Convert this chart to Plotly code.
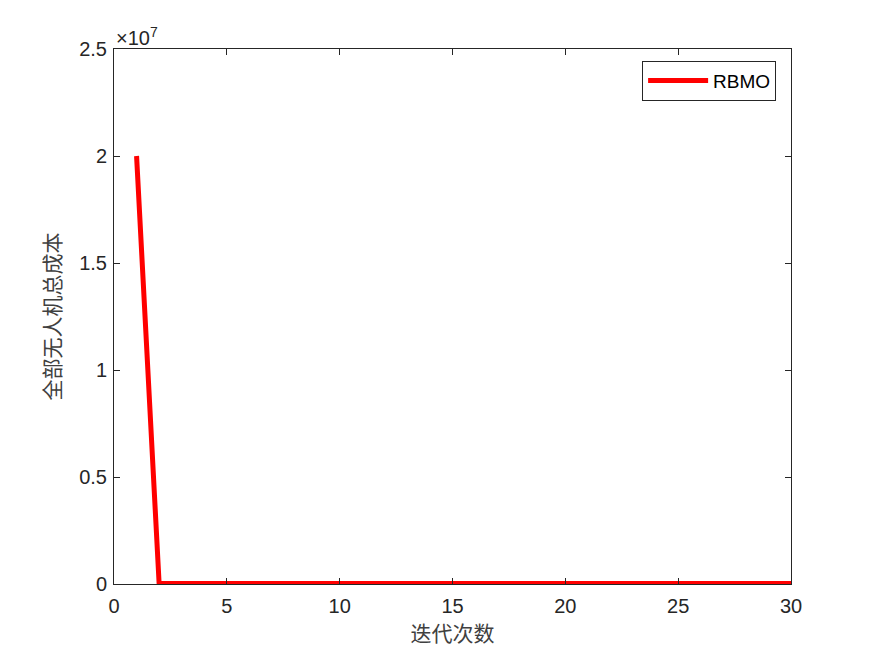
import plotly.graph_objects as go

iterations = list(range(1, 31))
cost = [2.0e7, 2.1e4, 2.0e4, 2.0e4, 1.9e4, 1.9e4, 1.9e4, 1.9e4, 1.9e4, 1.9e4,
        1.9e4, 1.9e4, 1.9e4, 1.9e4, 1.9e4, 1.9e4, 1.9e4, 1.9e4, 1.9e4, 1.9e4,
        1.9e4, 1.9e4, 1.9e4, 1.9e4, 1.9e4, 1.9e4, 1.9e4, 1.9e4, 1.9e4, 1.9e4]
series_name = "RBMO"
y_tickvals = [0, 0.5e7, 1.0e7, 1.5e7, 2.0e7, 2.5e7]
y_ticktext = ["0", "0.5", "1", "1.5", "2", "2.5"]
x_tickvals = [0, 5, 10, 15, 20, 25, 30]

fig = go.Figure()
fig.add_trace(go.Scatter(x=iterations, y=cost, mode="lines", name=series_name,
                         line=dict(color="#FF0000", width=5)))

tick_font = dict(family="Liberation Sans, Arial", size=20, color="#262626")
title_font = dict(family="Noto Sans CJK SC", size=21, color="#404040")
axis_common = dict(showgrid=False, zeroline=False, showline=True, linecolor="#262626",
                   linewidth=1, mirror="ticks", ticks="inside", ticklen=6,
                   tickcolor="#262626", tickfont=tick_font)

fig.update_layout(
    width=875, height=656,
    margin=dict(l=106, r=92, t=41, b=80),
    paper_bgcolor="white", plot_bgcolor="white",
    xaxis=dict(range=[0, 30], tickvals=x_tickvals, **axis_common, ticklabelstandoff=4,
               title=dict(text="迭代次数", font=title_font, standoff=10)),
    yaxis=dict(range=[0, 2.5e7], tickvals=y_tickvals, ticktext=y_ticktext, **axis_common,
               ticklabelstandoff=2,
               title=dict(text="全部无人机总成本", font=title_font, standoff=12)),
    legend=dict(x=0.978, y=0.978, xanchor="right", yanchor="top",
                bordercolor="#262626", borderwidth=1, bgcolor="white",
                font=dict(family="Liberation Sans, Arial", size=19, color="#000000"),
                itemwidth=60, tracegroupgap=0),
    showlegend=True,
)
fig.add_annotation(xref="paper", yref="paper", x=0, y=1, xanchor="left", yanchor="bottom",
                   text="×10<sup>7</sup>", showarrow=False, yshift=-2,
                   font=dict(family="Liberation Sans, Arial", size=20, color="#262626"))

fig.write_html("out.html")
